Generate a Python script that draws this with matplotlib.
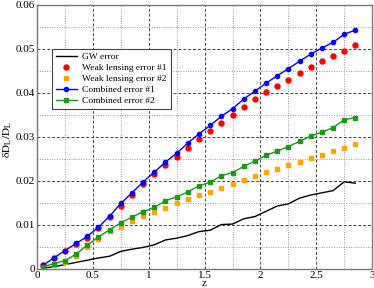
import numpy as np
import matplotlib
matplotlib.use('Agg')
import matplotlib.pyplot as plt
import matplotlib.ticker as ticker

# datos
z = [0.05, 0.15, 0.25, 0.35, 0.45, 0.55, 0.65, 0.75, 0.85, 0.95,
     1.05, 1.15, 1.25, 1.35, 1.45, 1.55, 1.65, 1.75, 1.85, 1.95,
     2.05, 2.15, 2.25, 2.35, 2.45, 2.55, 2.65, 2.75, 2.85]

gw_error = [0.0002, 0.0005, 0.0010, 0.0015, 0.0020, 0.0025, 0.0029, 0.0040, 0.0045, 0.0049,
            0.0055, 0.0066, 0.0070, 0.0076, 0.0085, 0.0088, 0.0101, 0.0102, 0.0114, 0.0119,
            0.0131, 0.0143, 0.0148, 0.0161, 0.0168, 0.0173, 0.0178, 0.0198, 0.0195]

wl_error1 = [0.0008, 0.0024, 0.0040, 0.0057, 0.0071, 0.0092, 0.0117, 0.0143, 0.0167, 0.0192,
             0.0215, 0.0236, 0.0255, 0.0275, 0.0295, 0.0314, 0.0332, 0.0350, 0.0368, 0.0386,
             0.0402, 0.0415, 0.0430, 0.0445, 0.0459, 0.0472, 0.0484, 0.0496, 0.0508]

wl_error2 = [0.0003, 0.0009, 0.0015, 0.0030, 0.0051, 0.0069, 0.0086, 0.0096, 0.0109, 0.0120,
             0.0130, 0.0139, 0.0151, 0.0158, 0.0168, 0.0176, 0.0185, 0.0194, 0.0203, 0.0212,
             0.0220, 0.0227, 0.0236, 0.0244, 0.0252, 0.0260, 0.0267, 0.0275, 0.0283]

comb_error1 = [0.0008, 0.0025, 0.0042, 0.0058, 0.0074, 0.0095, 0.0120, 0.0149, 0.0173, 0.0198,
               0.0220, 0.0243, 0.0263, 0.0286, 0.0307, 0.0326, 0.0347, 0.0364, 0.0386, 0.0404,
               0.0422, 0.0439, 0.0455, 0.0472, 0.0488, 0.0502, 0.0515, 0.0533, 0.0543]

comb_error2 = [0.0005, 0.0012, 0.0019, 0.0034, 0.0054, 0.0073, 0.0089, 0.0105, 0.0118, 0.0130,
               0.0140, 0.0155, 0.0164, 0.0175, 0.0189, 0.0197, 0.0212, 0.0219, 0.0233, 0.0245,
               0.0258, 0.0268, 0.0278, 0.0290, 0.0302, 0.0311, 0.0321, 0.0339, 0.0344]

plt.rcParams['font.family'] = ['Liberation Serif', 'DejaVu Serif']
plt.rcParams['mathtext.fontset'] = 'stix'

fig = plt.figure(figsize=(3.74, 2.88), dpi=100)
ax = fig.add_axes([0.099, 0.066, 0.896, 0.917])

# curvas de error
ax.plot(z, gw_error, color='black', lw=1.0, label='GW error')
ax.plot(z, wl_error1, 'o', color='red', ms=3.6, mec='red', label='Weak lensing error #1')
ax.plot(z, wl_error2, 's', color='orange', ms=3.4, mec='orange', label='Weak lensing error #2')
ax.plot(z, comb_error1, '-o', color='blue', lw=1.0, ms=3.0, label='Combined error #1')
ax.plot(z, comb_error2, '-s', color='#1a9a1a', lw=1.0, ms=3.0, label='Combined error #2')

ax.set_xlim(0, 3)
ax.set_ylim(0, 0.06)
ax.xaxis.set_major_locator(ticker.MultipleLocator(0.5))
ax.xaxis.set_minor_locator(ticker.MultipleLocator(0.25))
ax.yaxis.set_major_locator(ticker.MultipleLocator(0.01))
ax.yaxis.set_minor_locator(ticker.MultipleLocator(0.005))
ax.xaxis.set_major_formatter(ticker.FuncFormatter(lambda x, pos: '%g' % x))
ax.yaxis.set_major_formatter(ticker.FuncFormatter(lambda y, pos: '%g' % round(y, 3)))

# rejilla: mayor discontinua, menor punteada
ax.grid(which='major', color='#444444', linestyle=(0, (3, 2)), lw=0.7)
ax.grid(which='minor', color='#999999', linestyle=(0, (1, 1.5)), lw=0.7)
ax.set_axisbelow(True)
ax.tick_params(which='both', length=0, labelsize=8, pad=1.5)
for s in ax.spines.values():
    s.set_color('#777777')
    s.set_linewidth(1.0)

ax.set_xlabel('z', fontsize=8)
ax.xaxis.set_label_coords(0.5, -0.037)
ax.set_ylabel(r'$\mathrm{\delta D_L/D_L}$', fontsize=8)
ax.yaxis.set_label_coords(-0.069, 0.49)

leg = ax.legend(loc='upper left', bbox_to_anchor=(0.045, 0.833), borderaxespad=0,
                fontsize=6.8, fancybox=False, framealpha=1, edgecolor='#444444',
                handlelength=2.2, labelspacing=0.25, borderpad=0.4, handletextpad=0.6)
leg.get_frame().set_linewidth(0.8)

fig.savefig('out.png', dpi=100)
